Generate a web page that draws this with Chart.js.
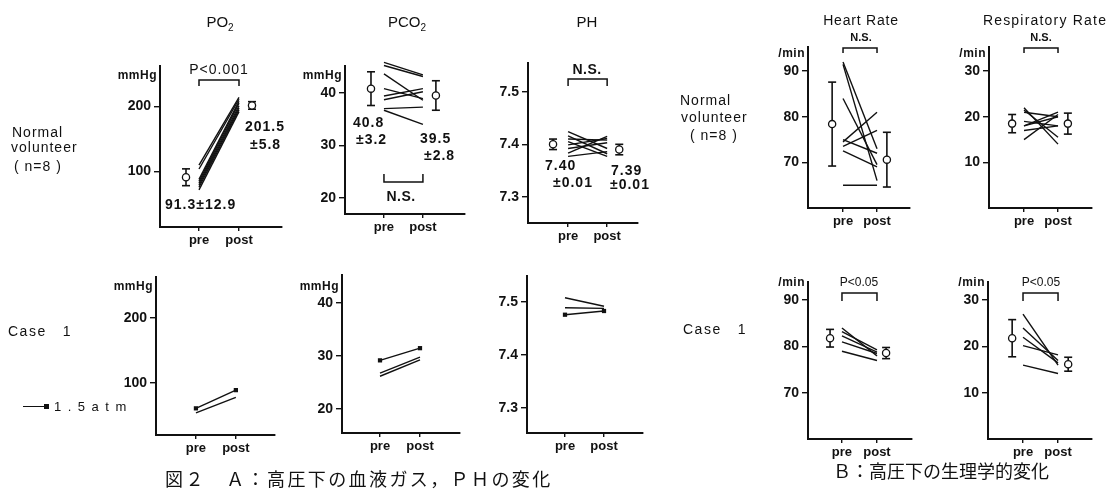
<!DOCTYPE html>
<html>
<head>
<meta charset="utf-8">
<script src="https://cdn.jsdelivr.net/npm/chart.js@4/dist/chart.umd.min.js"></script>
<style>
  html, body { margin: 0; padding: 0; background: #fff; }
  #wrap { position: relative; width: 1114px; height: 492px; overflow: hidden;
          font-family: "Liberation Sans", Arial, sans-serif; color: #111; }
  #wrap canvas { position: absolute; left: 0; top: 0; }
  .t { position: absolute; white-space: nowrap; line-height: 1; z-index: 5; }
  .cap { font-family: "Noto Sans CJK JP", sans-serif; font-size: 18px; }
</style>
</head>
<body>
<div id="wrap">
  <div class="t" style="left:220px;top:14px;font-size:15px;transform:translateX(-50%);">PO<sub style="font-size:10px;vertical-align:-4px;">2</sub></div>
  <div class="t" style="left:407px;top:14px;font-size:15px;transform:translateX(-50%);">PCO<sub style="font-size:10px;vertical-align:-4px;">2</sub></div>
  <div class="t" style="left:587px;top:14px;font-size:15px;transform:translateX(-50%);">PH</div>
  <div class="t" style="left:861px;top:13px;font-size:14px;letter-spacing:0.8px;transform:translateX(-50%);">Heart Rate</div>
  <div class="t" style="left:1045px;top:13px;font-size:14px;letter-spacing:1.2px;transform:translateX(-50%);">Respiratory Rate</div>

  <div class="t" style="left:12px;top:125px;font-size:14px;letter-spacing:1px;">Normal</div>
  <div class="t" style="left:11px;top:140px;font-size:14px;letter-spacing:1px;">volunteer</div>
  <div class="t" style="left:14px;top:159px;font-size:14px;letter-spacing:1px;">( n=8 )</div>
  <div class="t" style="left:680px;top:93px;font-size:14px;letter-spacing:1px;">Normal</div>
  <div class="t" style="left:681px;top:110px;font-size:14px;letter-spacing:1px;">volunteer</div>
  <div class="t" style="left:690px;top:128px;font-size:14px;letter-spacing:1px;">( n=8 )</div>

  <div class="t" style="left:8px;top:324px;font-size:14px;letter-spacing:1.5px;">Case&nbsp;&nbsp;&nbsp;1</div>
  <div class="t" style="left:683px;top:322px;font-size:14px;letter-spacing:1.5px;">Case&nbsp;&nbsp;&nbsp;1</div>

  <div class="t" style="left:23px;top:406px;width:23px;height:0;border-top:1.5px solid #111;"></div>
  <div class="t" style="left:44px;top:404px;width:5px;height:5px;background:#111;"></div>
  <div class="t" style="left:54px;top:400px;font-size:13px;letter-spacing:6.5px;">1.5atm</div>

  <div class="t cap" style="left:165px;top:469px;letter-spacing:2.4px;">図２　Ａ：高圧下の血液ガス，ＰＨの変化</div>
  <div class="t cap" style="left:833px;top:461px;">Ｂ：高圧下の生理学的変化</div>
</div>
<script>
const FONT = '"Liberation Sans", Arial, sans-serif';

// ---------- pre / post phases ----------
const phaseLabels = ['pre', 'post'];

// ---------- normal volunteers (n = 8) ----------
const po2Pre   = [110, 104, 88, 85, 82, 79, 76, 72];
const po2Post  = [214, 211, 208, 205, 201, 198, 195, 192];
const po2Mean  = [91.3, 201.5];
const po2Sd    = [12.9, 5.8];
const po2Ticks = [100, 200];

const pco2Pre   = [45.8, 45.2, 43.6, 40.8, 39.4, 38.7, 37.0, 36.7];
const pco2Post  = [43.4, 43.1, 38.6, 38.9, 40.8, 40.2, 37.3, 34.0];
const pco2Mean  = [40.8, 39.5];
const pco2Sd    = [3.2, 2.8];
const pco2Ticks = [20, 30, 40];

const phPre   = [7.424, 7.416, 7.410, 7.405, 7.399, 7.392, 7.383, 7.377];
const phPost  = [7.392, 7.382, 7.408, 7.377, 7.411, 7.403, 7.415, 7.386];
const phMean  = [7.40, 7.39];
const phSd    = [0.01, 0.01];
const phTicks = [7.3, 7.4, 7.5];

const hrPre   = [92, 91.5, 84, 75, 74.5, 73.5, 72.5, 65];
const hrPost  = [73, 66, 69.5, 72, 81, 77, 69, 65];
const hrMean  = [78.4, 70.6];
const hrSd    = [9.2, 6.0];
const hrTicks = [70, 80, 90];

const rrPre   = [22, 21.5, 21, 19, 18, 18, 17, 15];
const rrPost  = [14, 15.5, 20, 18, 21, 20, 18, 20.5];
const rrMean  = [18.5, 18.5];
const rrSd    = [2.0, 2.3];
const rrTicks = [10, 20, 30];

// ---------- case 1 (first entry = 1.5 atm) ----------
const casePo2Pre   = [61, 54];
const casePo2Post  = [89, 78];
const casePco2Pre  = [29.2, 26.8, 26.2];
const casePco2Post = [31.5, 29.8, 29.3];
const casePhPre    = [7.476, 7.508, 7.489];
const casePhPost   = [7.483, 7.492, 7.488];
const caseHrPre    = [84, 83.2, 82.3, 81, 79];
const caseHrPost   = [78, 79.3, 78.8, 78.5, 77];
const caseHrMean   = [81.8, 78.6];
const caseHrSd     = [1.9, 1.2];
const caseRrPre    = [27, 24, 22, 20.2, 16];
const caseRrPost   = [16, 17, 16.5, 18.2, 14.2];
const caseRrMean   = [21.8, 16.2];
const caseRrSd     = [4.0, 1.5];

// ---------- drawing helpers ----------
const INK = '#111';
const W = 1114, H = 492;
const Y_AXIS_W = 40, X_AXIS_H = 25;

// per-panel free annotations: brackets, value labels, unit label
const notesPlugin = {
  id: 'notes',
  afterDraw(chart, args, opts) {
    const ctx = chart.ctx;
    const xs = chart.scales.x;
    const x1 = xs.getPixelForValue(1), x2 = xs.getPixelForValue(2);
    ctx.save();
    ctx.strokeStyle = INK; ctx.fillStyle = INK; ctx.lineWidth = 1.5;
    (opts.brackets || []).forEach(b => {
      ctx.beginPath();
      ctx.moveTo(x1, b.y + b.h); ctx.lineTo(x1, b.y);
      ctx.lineTo(x2, b.y); ctx.lineTo(x2, b.y + b.h);
      ctx.stroke();
    });
    ctx.textBaseline = 'middle';
    (opts.texts || []).forEach(t => {
      ctx.font = t.font || ('bold 14px ' + FONT);
      ctx.textAlign = t.align || 'left';
      ctx.letterSpacing = t.ls || '0px';
      ctx.fillText(t.text, t.x, t.y);
    });
    if (opts.unit) {
      ctx.font = 'bold 12px ' + FONT;
      ctx.textAlign = 'right';
      ctx.letterSpacing = '0.5px';
      ctx.fillText(opts.unit.text, chart.chartArea.left - 3, opts.unit.y);
    }
    ctx.restore();
  }
};

function subjectLines(pre, post, marked) {
  return pre.map((v, i) => ({
    data: [{ x: 1, y: v }, { x: 2, y: post[i] }],
    showLine: true,
    borderColor: INK,
    borderWidth: 1.4,
    pointStyle: 'rect',
    pointRadius: (marked && i === 0) ? 3 : 0,
    pointBackgroundColor: INK,
    pointBorderColor: INK,
    pointBorderWidth: 0,
    order: 2
  }));
}

function meanBars(xPos, mean, sd) {
  const sets = [];
  mean.forEach((m, i) => {
    sets.push({
      data: [{ x: xPos[i], y: m }],
      showLine: false,
      pointStyle: 'circle',
      pointRadius: 3.6,
      pointBackgroundColor: '#fff',
      pointBorderColor: INK,
      pointBorderWidth: 1.3,
      order: 0
    });
    sets.push({
      data: [{ x: xPos[i], y: m - sd[i] }, { x: xPos[i], y: m + sd[i] }],
      showLine: true,
      borderColor: INK,
      borderWidth: 1.6,
      pointStyle: 'line',
      pointRadius: 4,
      pointBorderColor: INK,
      pointBorderWidth: 1.6,
      order: 1
    });
  });
  return sets;
}

function panel(id, p) {
  const cv = document.createElement('canvas');
  cv.id = id; cv.width = W; cv.height = H;
  document.getElementById('wrap').appendChild(cv);
  const [left, right, top, bottom] = p.box;
  const datasets = subjectLines(p.pre, p.post, p.marked)
    .concat(p.mean ? meanBars(p.meanX || [0.67, 2.32], p.mean, p.sd) : []);
  new Chart(cv, {
    type: 'scatter',
    data: { datasets },
    options: {
      responsive: false,
      animation: false,
      events: [],
      clip: false,
      layout: { padding: { left: left - Y_AXIS_W, right: W - right, top: top, bottom: H - bottom - X_AXIS_H } },
      plugins: { legend: { display: false }, tooltip: { enabled: false }, notes: p.notes || {} },
      scales: {
        x: {
          type: 'linear', position: 'bottom', min: p.x[0], max: p.x[1],
          afterBuildTicks: s => { s.ticks = [{ value: 1 }, { value: 2 }]; },
          afterFit: s => { s.height = X_AXIS_H; },
          grid: { display: true, drawOnChartArea: false, drawTicks: true, tickLength: 4, color: INK, lineWidth: 1.4 },
          border: { display: true, color: INK, width: 2 },
          ticks: { color: INK, padding: 2, font: { family: FONT, size: 13, weight: 'bold' },
                   callback: v => phaseLabels[v - 1] || '' }
        },
        y: {
          type: 'linear', position: 'left', min: p.y[0], max: p.y[1],
          afterBuildTicks: s => { s.ticks = p.ticks.map(v => ({ value: v })); },
          afterFit: s => { s.width = Y_AXIS_W; },
          grid: { display: true, drawOnChartArea: false, drawTicks: true, tickLength: 6, color: INK, lineWidth: 1.4 },
          border: { display: true, color: INK, width: 2 },
          ticks: { color: INK, padding: 3, font: { family: FONT, size: 14, weight: 'bold' },
                   callback: v => p.fmt ? p.fmt(v) : String(v) }
        }
      }
    },
    plugins: [notesPlugin]
  });
}

const bold14 = 'bold 14px ' + FONT;
const reg14 = '14px ' + FONT;
const reg12 = '12px ' + FONT;

// ---------- top row: normal volunteers ----------
panel('po2', {
  box: [160, 282, 66, 227], y: [15, 262], x: [0.025, 3.075], ticks: po2Ticks,
  pre: po2Pre, post: po2Post, mean: po2Mean, sd: po2Sd, meanX: [0.675, 2.325],
  notes: {
    unit: { text: 'mmHg', y: 76 },
    brackets: [{ y: 80, h: 6 }],
    texts: [
      { text: 'P<0.001', x: 219, y: 70, align: 'center', font: reg14, ls: '1px' },
      { text: po2Mean[1].toFixed(1), x: 245, y: 127, ls: '1px' },
      { text: '±' + po2Sd[1].toFixed(1), x: 250, y: 145, ls: '1px' },
      { text: po2Mean[0].toFixed(1) + '±' + po2Sd[0].toFixed(1), x: 165, y: 205, ls: '1px' }
    ]
  }
});

panel('pco2', {
  box: [345, 465, 66, 214], y: [17, 45.1], x: [0, 3.08], ticks: pco2Ticks,
  pre: pco2Pre, post: pco2Post, mean: pco2Mean, sd: pco2Sd, meanX: [0.667, 2.333],
  notes: {
    unit: { text: 'mmHg', y: 76 },
    brackets: [{ y: 182, h: -8 }],
    texts: [
      { text: 'N.S.', x: 401, y: 197, align: 'center', font: bold14, ls: '0.5px' },
      { text: pco2Mean[0].toFixed(1), x: 353, y: 123, ls: '1px' },
      { text: '±' + pco2Sd[0].toFixed(1), x: 356, y: 140, ls: '1px' },
      { text: pco2Mean[1].toFixed(1), x: 420, y: 139, ls: '1px' },
      { text: '±' + pco2Sd[1].toFixed(1), x: 424, y: 156, ls: '1px' }
    ]
  }
});

panel('ph', {
  box: [528, 638, 63, 223], y: [7.25, 7.555], x: [-0.026, 2.79], ticks: phTicks,
  fmt: v => v.toFixed(1),
  pre: phPre, post: phPost, mean: phMean, sd: phSd, meanX: [0.615, 2.31],
  notes: {
    brackets: [{ y: 79, h: 7 }],
    texts: [
      { text: 'N.S.', x: 587, y: 70, align: 'center', font: bold14, ls: '0.5px' },
      { text: phMean[0].toFixed(2), x: 545, y: 166, ls: '1px' },
      { text: '±' + phSd[0].toFixed(2), x: 553, y: 183, ls: '1px' },
      { text: phMean[1].toFixed(2), x: 611, y: 171, ls: '1px' },
      { text: '±' + phSd[1].toFixed(2), x: 610, y: 185, ls: '1px' }
    ]
  }
});

panel('hr', {
  box: [808, 910, 47, 208], y: [60, 95.3], x: [-0.03, 2.97], ticks: hrTicks,
  pre: hrPre, post: hrPost, mean: hrMean, sd: hrSd, meanX: [0.68, 2.29],
  notes: {
    unit: { text: '/min', y: 54 },
    brackets: [{ y: 48, h: 5 }],
    texts: [{ text: 'N.S.', x: 861, y: 38, align: 'center', font: 'bold 11px ' + FONT }]
  }
});

panel('rr', {
  box: [989, 1092, 47, 208], y: [0, 35.3], x: [-0.03, 3], ticks: rrTicks,
  pre: rrPre, post: rrPost, mean: rrMean, sd: rrSd, meanX: [0.65, 2.29],
  notes: {
    unit: { text: '/min', y: 54 },
    brackets: [{ y: 48, h: 5 }],
    texts: [{ text: 'N.S.', x: 1041, y: 38, align: 'center', font: 'bold 11px ' + FONT }]
  }
});

// ---------- bottom row: case 1 ----------
panel('cpo2', {
  box: [156, 275, 277, 435], y: [20, 263], x: [0, 2.98], ticks: po2Ticks,
  pre: casePo2Pre, post: casePo2Post, marked: true,
  notes: { unit: { text: 'mmHg', y: 287 } }
});

panel('cpco2', {
  box: [342, 460, 275, 433], y: [15.5, 45.3], x: [0.05, 3], ticks: pco2Ticks,
  pre: casePco2Pre, post: casePco2Post, marked: true,
  notes: { unit: { text: 'mmHg', y: 287 } }
});

panel('cph', {
  box: [527, 643, 276, 433], y: [7.253, 7.549], x: [0.026, 3], ticks: phTicks,
  fmt: v => v.toFixed(1),
  pre: casePhPre, post: casePhPost, marked: true
});

panel('chr', {
  box: [808, 912, 282, 439], y: [60.1, 93.9], x: [0.03, 3], ticks: hrTicks,
  pre: caseHrPre, post: caseHrPost, mean: caseHrMean, sd: caseHrSd, meanX: [0.66, 2.26],
  notes: {
    unit: { text: '/min', y: 283 },
    brackets: [{ y: 293, h: 8 }],
    texts: [{ text: 'P<0.05', x: 859, y: 283, align: 'center', font: reg12 }]
  }
});

panel('crr', {
  box: [988, 1092, 282, 439], y: [0.1, 33.9], x: [0, 2.97], ticks: rrTicks,
  pre: caseRrPre, post: caseRrPost, mean: caseRrMean, sd: caseRrSd, meanX: [0.69, 2.29],
  notes: {
    unit: { text: '/min', y: 283 },
    brackets: [{ y: 293, h: 8 }],
    texts: [{ text: 'P<0.05', x: 1041, y: 283, align: 'center', font: reg12 }]
  }
});
</script>
</body>
</html>
